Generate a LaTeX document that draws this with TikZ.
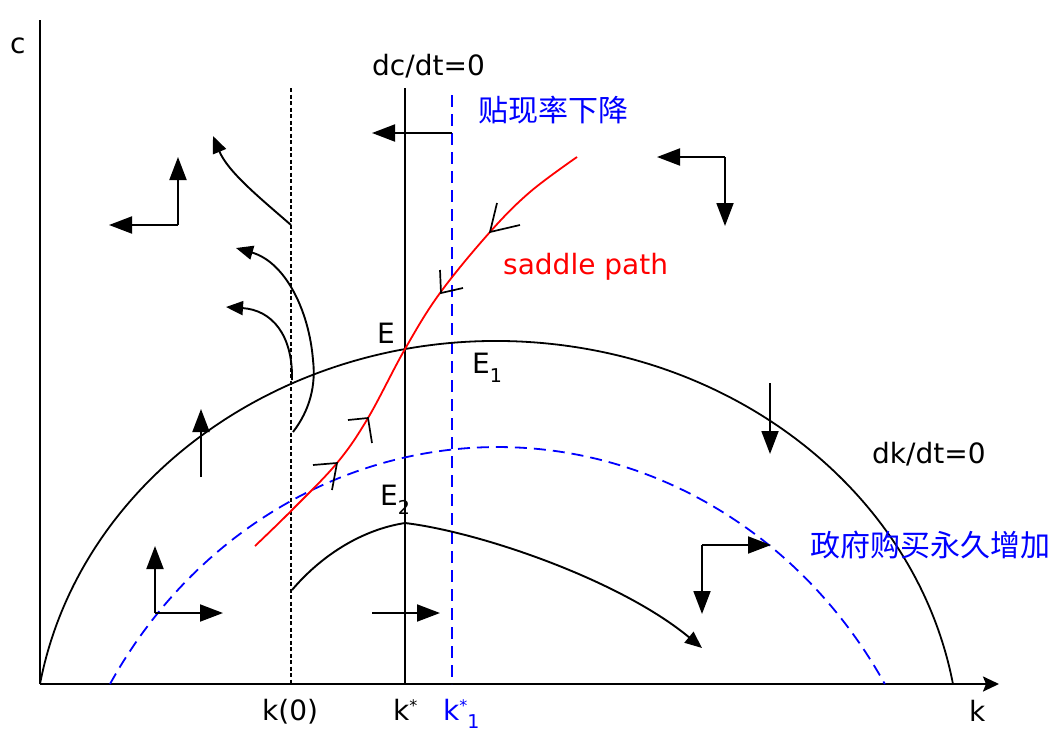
\documentclass[tikz,border=0pt]{standalone}
\usepackage{fontspec}
\setmainfont{DejaVu Sans}
\newfontfamily\cjk{Noto Sans CJK SC}
\usetikzlibrary{arrows.meta}
\begin{document}
\begin{tikzpicture}[x=1pt,y=-1pt,
  axisline/.style={line width=2.2pt},
  curveline/.style={line width=1.8pt},
  bigarrow/.style={line width=1.9pt,-{Triangle[length=23pt,width=17pt]}},
  traj/.style={line width=1.9pt,-{Triangle[length=17pt,width=14pt]}},
  mk/.style={line width=1.7pt},
  lbl/.style={font=\fontsize{28}{30}\selectfont, inner sep=0pt, anchor=base west},
  cn/.style={font=\cjk\fontsize{30}{32}\selectfont, text=blue, inner sep=0pt},
  bdash/.style={blue, line width=1.8pt, dash pattern=on 12pt off 7pt},
]
\useasboundingbox (0,0) rectangle (1051,731);

% axes
\draw[axisline] (40,20) -- (40,684);
\draw[axisline,-{Stealth[length=16pt,width=15pt,inset=3pt]}] (40,684) -- (999,684);
\node[lbl] (lc) at (10,53) {c};
\node[lbl] (lk) at (969,721) {k};

% vertical lines
\draw[line width=1.6pt, dash pattern=on 4pt off 2.5pt] (291,88) -- (291,684);
\draw[curveline] (405,88) -- (405,684);
\draw[bdash] (452,95) -- (452,684);

% dk/dt = 0 curves
\draw[curveline] (40,684) arc[start angle=189.76, end angle=350.24, x radius=463.2, y radius=413];
\draw[bdash] (110,684) arc[start angle=210.9, end angle=329.1, x radius=451.5, y radius=487];

% saddle path
\draw[red, line width=1.8pt] plot[smooth, tension=0.6] coordinates {(255,546) (292,510) (337,463) (368,418) (405,349) (440,293) (490,232) (530,192) (577,157)};
\draw[mk] (313,465) -- (337,463) -- (332,490);
\draw[mk] (348,420) -- (368,418) -- (372,443);
\draw[mk] (497,203) -- (490,232) -- (520,225);
\draw[mk] (440,270) -- (441,293) -- (463,288);

% direction arrows
\draw[bigarrow] (452,133) -- (372,133);
\draw[bigarrow] (178,225) -- (178,157);
\draw[bigarrow] (178,225) -- (109,225);
\draw[bigarrow] (725,157) -- (657,157);
\draw[bigarrow] (725,157) -- (725,226);
\draw[bigarrow] (770,383) -- (770,454);
\draw[bigarrow] (702,545) -- (771,545);
\draw[bigarrow] (702,545) -- (702,614);
\draw[bigarrow] (201,477) -- (201,409);
\draw[bigarrow] (155,613) -- (155,546);
\draw[bigarrow] (155,613) -- (223,613);
\draw[bigarrow] (372,613) -- (440,613);

% trajectories
\draw[traj] (291,225) .. controls (260,198) and (228,172) .. (213,136);
\draw[traj] (292,380) .. controls (293,335) and (272,310) .. (226,307);
\draw[traj] (293,432) .. controls (310,410) and (316,385) .. (313,360) .. controls (309,310) and (285,262) .. (236,248);
\draw[traj] (292,590) .. controls (320,557) and (360,530) .. (405,523) .. controls (480,532) and (620,580) .. (702,648);

% labels
\node[lbl] (ldc) at (372,75) {dc/dt=0};
\node[lbl] (ldk) at (872,463) {dk/dt=0};
\node[lbl, text=red] (lsp) at (503,274) {saddle path};
\node[lbl] (lE) at (377,343) {E};
\node[lbl] (lE1) at (472,373) {E\raisebox{-9pt}{\fontsize{19}{19}\selectfont 1}};
\node[lbl] (lE2) at (380,505) {E\raisebox{-9pt}{\fontsize{19}{19}\selectfont 2}};
\node[lbl] (lk0) at (262,720) {k(0)};
\node[lbl] (lks) at (393,720) {k\raisebox{9pt}{\fontsize{16}{16}\selectfont *}};
\node[lbl, text=blue] (lks1) at (443,720) {k\raisebox{9pt}{\fontsize{16}{16}\selectfont *}\raisebox{-8pt}{\fontsize{19}{19}\selectfont 1}};
\node[cn] (ldisc) at (553,110) {贴现率下降};
\node[cn] (lgov) at (930,545) {政府购买永久增加};
\end{tikzpicture}
\end{document}
